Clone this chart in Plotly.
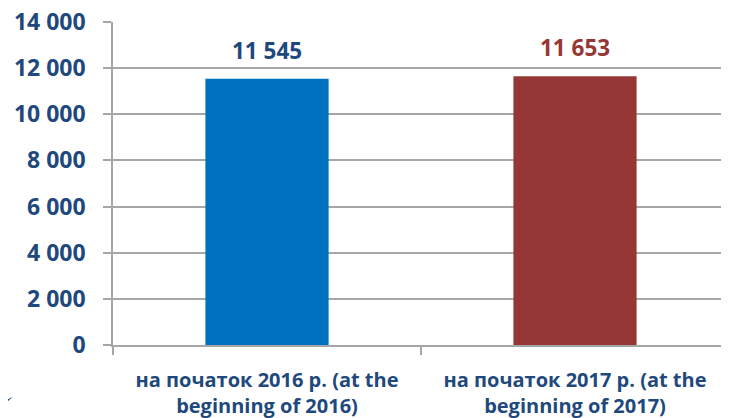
import plotly.graph_objects as go

categories = ["на початок 2016 р. (at the<br>beginning of 2016)",
              "на початок 2017 р. (at the<br>beginning of 2017)"]
values = [11545, 11653]
value_labels = ["11 545", "11 653"]
bar_colors = ["#0070C0", "#953735"]
label_colors = ["#1F497D", "#953735"]
y_ticks = [0, 2000, 4000, 6000, 8000, 10000, 12000, 14000]
y_tick_labels = ["0", "2 000", "4 000", "6 000", "8 000", "10 000", "12 000", "14 000"]

TEXT = "#1F497D"
GRID = "#A6A6A6"
FONT = "Open Sans"

fig = go.Figure()
fig.add_trace(go.Bar(x=categories, y=values, width=0.4,
                     marker=dict(color=bar_colors, line=dict(width=0)),
                     hoverinfo="skip"))

# value labels above bars
for cat, val, lab, col in zip(categories, values, value_labels, label_colors):
    fig.add_annotation(x=cat, y=val, text=lab, showarrow=False,
                       yanchor="bottom", yshift=11,
                       font=dict(family=FONT, size=22.5, color=col, weight="bold"))

# small decorative swoosh bottom-left (from the slide)
fig.add_shape(type="path", xref="paper", yref="paper",
              path="M -0.19,-0.19 L -0.163,-0.16 L -0.187,-0.205 Z",
              fillcolor="#1F497D", line=dict(width=0))

# page body has an 8px margin, so the figure is sized to fit inside it
fig.update_layout(
    width=721, height=410,
    margin=dict(l=105, r=0, t=14, b=73),
    paper_bgcolor="white", plot_bgcolor="white",
    showlegend=False,
    font=dict(family=FONT, size=22, color=TEXT, weight="bold"),
)
fig.update_xaxes(range=[-0.5, 1.5], showline=True, linecolor=GRID, linewidth=1.5,
                 ticks="outside", tickson="boundaries", ticklen=8, tickcolor=GRID,
                 tickwidth=1.5, showgrid=False, ticklabelstandoff=16,
                 tickfont=dict(family=FONT, size=20, color=TEXT, weight="bold"))
fig.update_yaxes(range=[0, 14000], tickvals=y_ticks, ticktext=y_tick_labels,
                 showline=True, linecolor=GRID, linewidth=1.5,
                 ticks="outside", ticklen=8, tickcolor=GRID, tickwidth=1.5,
                 showgrid=True, gridcolor=GRID, gridwidth=1.5,
                 zeroline=False, ticklabelstandoff=13, automargin=False,
                 ticklabeloverflow="allow",
                 tickfont=dict(family=FONT, size=23, color=TEXT, weight="bold"))

fig.write_html("out.html")
